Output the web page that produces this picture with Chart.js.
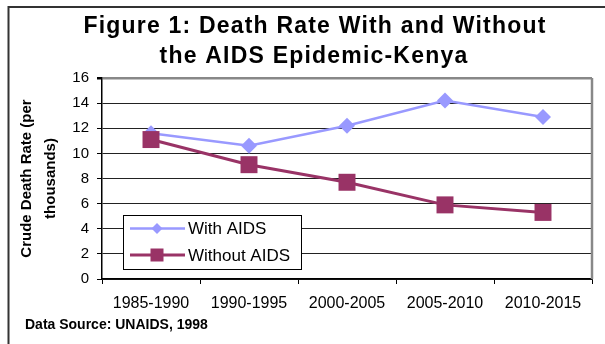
<!DOCTYPE html>
<html>
<head>
<meta charset="utf-8">
<title>Death Rate With and Without the AIDS Epidemic - Kenya</title>
<script src="https://cdn.jsdelivr.net/npm/chart.js"></script>
<style>
  html, body { margin: 0; padding: 0; background: #fff; overflow: hidden; }
  #wrap { position: relative; width: 605px; height: 344px; }
</style>
</head>
<body>
<div id="wrap"><canvas id="deathChart"></canvas></div>
<script>
// periods and crude death rates (per thousand)
const periods = ['1985-1990', '1990-1995', '2000-2005', '2005-2010', '2010-2015'];
const withAids = [11.6, 10.6, 12.2, 14.2, 12.9];
const withoutAids = [11.1, 9.1, 7.7, 5.9, 5.3];
const yTicks = [0, 2, 4, 6, 8, 10, 12, 14, 16];

const titleLines = ['Figure 1: Death Rate With and Without', 'the AIDS Epidemic-Kenya'];
const sourceNote = 'Data Source: UNAIDS, 1998';

const FONT = "'Liberation Sans', Arial, Helvetica, sans-serif";
const BLUE = '#9999ff';
const PLUM = '#993366';

// outer frame, title and source note
const frame = {
  id: 'frame',
  beforeDraw(chart) {
    const ctx = chart.ctx;
    ctx.save();
    ctx.strokeStyle = '#333';
    ctx.lineWidth = 2;
    ctx.beginPath();
    ctx.moveTo(8.5, chart.height);
    ctx.lineTo(8.5, 7);
    ctx.lineTo(chart.width, 7);
    ctx.stroke();
    ctx.restore();
  },
  afterDraw(chart) {
    const ctx = chart.ctx;
    ctx.save();
    ctx.fillStyle = '#000';
    ctx.textAlign = 'center';
    ctx.textBaseline = 'alphabetic';
    ctx.font = 'bold 23px ' + FONT;
    if ('letterSpacing' in ctx) ctx.letterSpacing = '1.2px';
    ctx.fillText(titleLines[0], 315, 33);
    ctx.fillText(titleLines[1], 314, 63);
    if ('letterSpacing' in ctx) ctx.letterSpacing = '0px';
    ctx.textAlign = 'left';
    ctx.font = 'bold 14px ' + FONT;
    ctx.fillText(sourceNote, 25, 329);
    ctx.restore();
  }
};

// gray edge on the right of the plot area
const plotEdge = {
  id: 'plotEdge',
  beforeDatasetsDraw(chart) {
    const {ctx, chartArea: a} = chart;
    ctx.save();
    ctx.strokeStyle = '#888';
    ctx.lineWidth = 2.5;
    ctx.beginPath();
    ctx.moveTo(a.right, a.top);
    ctx.lineTo(a.right, a.bottom);
    ctx.stroke();
    ctx.restore();
  }
};

function marker(ctx, style, x, y, r, color) {
  ctx.fillStyle = color;
  ctx.beginPath();
  if (style === 'rectRot') {
    ctx.moveTo(x, y - r);
    ctx.lineTo(x + r, y);
    ctx.lineTo(x, y + r);
    ctx.lineTo(x - r, y);
    ctx.closePath();
  } else {
    ctx.rect(x - r, y - r, 2 * r, 2 * r);
  }
  ctx.fill();
}

// boxed legend sitting inside the plot, lower left
const boxLegend = {
  id: 'boxLegend',
  afterDatasetsDraw(chart) {
    const {ctx, chartArea: a} = chart;
    const left = a.left + 21, top = a.bottom - 64, w = 178, h = 54;
    ctx.save();
    ctx.fillStyle = '#fff';
    ctx.fillRect(left, top, w, h);
    ctx.strokeStyle = '#000';
    ctx.lineWidth = 1;
    ctx.strokeRect(left + 0.5, top + 0.5, w, h);
    const items = [chart.data.datasets[0], chart.data.datasets[1]];
    items.forEach((ds, i) => {
      const y = top + 13.5 + i * 26.5;
      ctx.strokeStyle = ds.borderColor;
      ctx.lineWidth = ds.borderWidth;
      ctx.beginPath();
      ctx.moveTo(left + 7, y);
      ctx.lineTo(left + 62, y);
      ctx.stroke();
      marker(ctx, ds.pointStyle, left + 34, y, i === 0 ? 5.5 : 6.5, ds.backgroundColor);
      ctx.fillStyle = '#000';
      ctx.font = '17px ' + FONT;
      ctx.textAlign = 'left';
      ctx.textBaseline = 'middle';
      ctx.fillText(ds.label, left + 65, y + 1);
    });
    ctx.restore();
  }
};

new Chart(document.getElementById('deathChart'), {
  type: 'line',
  data: {
    labels: periods,
    datasets: [
      {
        label: 'With AIDS',
        data: withAids,
        borderColor: BLUE,
        backgroundColor: BLUE,
        borderWidth: 2.5,
        pointStyle: 'rectRot',
        pointRadius: 8,
        pointHoverRadius: 8,
        pointBorderWidth: 0,
        tension: 0,
        order: 1
      },
      {
        label: 'Without AIDS',
        data: withoutAids,
        borderColor: PLUM,
        backgroundColor: PLUM,
        borderWidth: 3,
        pointStyle: 'rect',
        pointRadius: 12,
        pointHoverRadius: 12,
        pointBorderWidth: 0,
        tension: 0,
        order: 0
      }
    ]
  },
  options: {
    responsive: true,
    maintainAspectRatio: false,
    animation: false,
    layout: { padding: { left: 0, top: 78, right: 13, bottom: 0 } },
    plugins: {
      legend: { display: false },
      title: { display: false },
      tooltip: { enabled: false }
    },
    scales: {
      x: {
        offset: true,
        afterFit(scale) { scale.height = 65; },
        grid: {
          offset: true,
          drawOnChartArea: false,
          color: '#000',
          tickLength: 5
        },
        border: { color: '#000', width: 1.5 },
        ticks: {
          color: '#000',
          padding: 10,
          maxRotation: 0,
          font: { family: FONT, size: 16 }
        }
      },
      y: {
        min: 0,
        max: 16,
        afterFit(scale) { scale.width = 102; },
        afterBuildTicks(scale) { scale.ticks = yTicks.map(v => ({ value: v })); },
        grid: {
          color: c => (c.tick && c.tick.value === 16 ? '#888' : '#222'),
          lineWidth: c => (c.tick && c.tick.value === 16 ? 2.5 : 1),
          tickColor: '#000',
          tickLength: 5
        },
        border: { color: '#000', width: 1.5 },
        ticks: {
          color: '#000',
          padding: 8,
          font: { family: FONT, size: 15 }
        },
        title: {
          display: true,
          text: ['Crude Death Rate (per', 'thousands)'],
          color: '#000',
          padding: { top: 15, bottom: 0 },
          font: { family: FONT, size: 15, weight: 'bold', lineHeight: 1.6 }
        }
      }
    }
  },
  plugins: [frame, plotEdge, boxLegend]
});
</script>
</body>
</html>
